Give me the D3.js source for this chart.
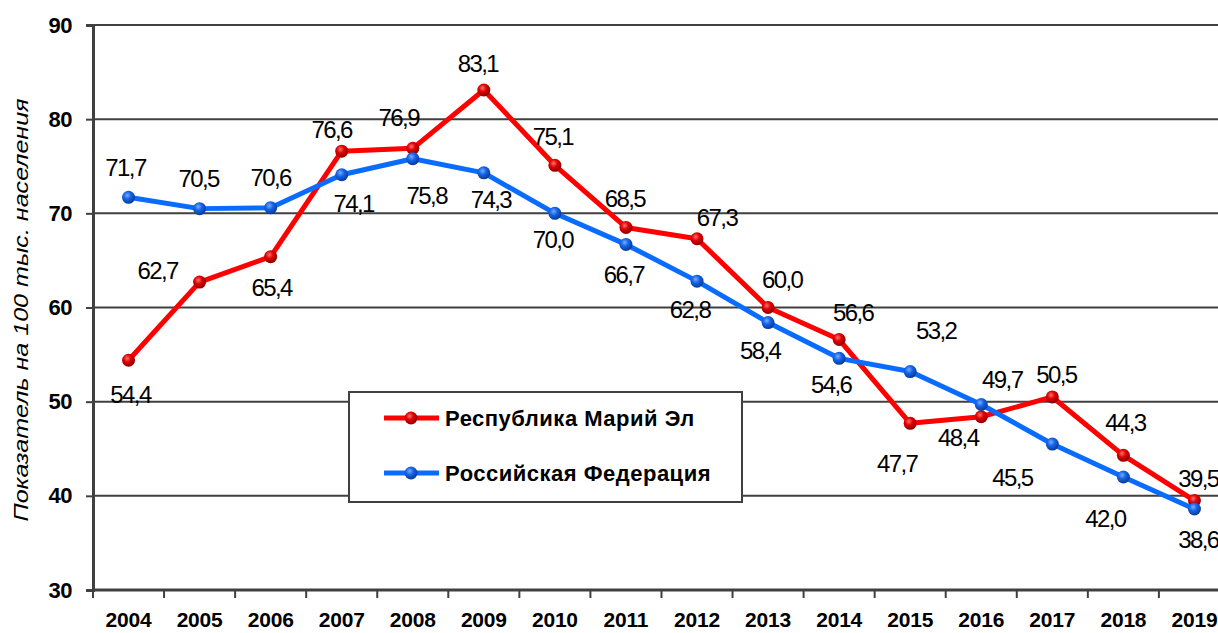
<!DOCTYPE html>
<html>
<head>
<meta charset="utf-8">
<script src="https://cdn.jsdelivr.net/npm/d3@7"></script>
<style>
  body { margin: 0; background: #fff; }
  svg { display: block; font-family: "Liberation Sans", Arial, sans-serif; }
</style>
</head>
<body>
<div id="chart"></div>
<script>
const years = ["2004","2005","2006","2007","2008","2009","2010","2011","2012","2013","2014","2015","2016","2017","2018","2019"];
const mariEl = [54.4, 62.7, 65.4, 76.6, 76.9, 83.1, 75.1, 68.5, 67.3, 60.0, 56.6, 47.7, 48.4, 50.5, 44.3, 39.5];
const russia = [71.7, 70.5, 70.6, 74.1, 75.8, 74.3, 70.0, 66.7, 62.8, 58.4, 54.6, 53.2, 49.7, 45.5, 42.0, 38.6];
const yTicks = [30, 40, 50, 60, 70, 80, 90];
const seriesNames = ["Республика Марий Эл", "Российская Федерация"];

// where each value label sits relative to its point (layout, not data)
const mariElLabelPos = [[2,34],[-42,-12],[1,31],[-10,-22],[-14,-31],[-6,-27],[-2,-29],[-1,-29],[20,-21],[14,-28],[14,-27],[-13,40],[-23,21],[4,-23],[2,-33],[4,-22]];
const russiaLabelPos = [[-3,-30],[-1,-30],[0,-30],[12,29],[14,37],[7,27],[-2,26],[-2,30],[-7,28],[-8,28],[-8,26],[26,-41],[21,-25],[-40,33],[-18,41],[4,30]];

const width = 1218, height = 633;
const left = 93, bandW = 71.06;

const svg = d3.select("#chart").append("svg")
    .attr("width", width)
    .attr("height", height);

const defs = svg.append("defs");
function ballGradient(id, light, mid, dark) {
    const g = defs.append("radialGradient").attr("id", id)
        .attr("cx", "40%").attr("cy", "35%").attr("r", "65%");
    g.append("stop").attr("offset", "0%").attr("stop-color", light);
    g.append("stop").attr("offset", "45%").attr("stop-color", mid);
    g.append("stop").attr("offset", "100%").attr("stop-color", dark);
}
ballGradient("ballRed", "#ff7070", "#e00000", "#8a0000");
ballGradient("ballBlue", "#78aaff", "#1464e6", "#0a3a96");

const x = d3.scaleBand()
    .domain(years)
    .range([left, left + bandW * years.length]);

const y = d3.scaleLinear()
    .domain([30, 90])
    .range([590, 25]);

// grid
svg.append("g")
    .selectAll("line")
    .data(yTicks)
    .join("line")
    .attr("x1", left)
    .attr("x2", width)
    .attr("y1", d => y(d))
    .attr("y2", d => y(d))
    .attr("stroke", "#404040")
    .attr("stroke-width", 2);

// y axis
const yAxis = svg.append("g")
    .attr("transform", `translate(${left},0)`)
    .call(d3.axisLeft(y).tickValues(yTicks).tickSize(7).tickPadding(14).tickFormat(d3.format("d")));
yAxis.select(".domain").attr("stroke", "#404040").attr("stroke-width", 3);
yAxis.selectAll(".tick line").attr("stroke", "#404040").attr("stroke-width", 2);
yAxis.selectAll(".tick text")
    .attr("font-size", 22)
    .attr("font-weight", "bold")
    .attr("font-family", "Liberation Sans, Arial, sans-serif")
    .attr("fill", "#000")
    .attr("letter-spacing", "-0.5px");

// x axis
const xAxis = svg.append("g")
    .attr("transform", `translate(0,${y(30)})`)
    .call(d3.axisBottom(x).tickSize(0).tickPadding(22));
xAxis.select(".domain").remove();
xAxis.selectAll(".tick text")
    .attr("font-size", 21)
    .attr("font-weight", "bold")
    .attr("font-family", "Liberation Sans, Arial, sans-serif")
    .attr("fill", "#000")
    .attr("letter-spacing", "-0.2px");
svg.append("line")
    .attr("x1", left).attr("x2", width)
    .attr("y1", y(30)).attr("y2", y(30))
    .attr("stroke", "#404040").attr("stroke-width", 3);
svg.append("g")
    .selectAll("line")
    .data(years)
    .join("line")
    .attr("x1", d => x(d))
    .attr("x2", d => x(d))
    .attr("y1", y(30))
    .attr("y2", y(30) + 8)
    .attr("stroke", "#404040")
    .attr("stroke-width", 2);

// y title
svg.append("text")
    .attr("transform", `translate(28,${310}) rotate(-90)`)
    .attr("text-anchor", "middle")
    .attr("font-size", 20)
    .attr("font-style", "italic")
    .attr("textLength", 423)
    .attr("lengthAdjust", "spacingAndGlyphs")
    .text("Показатель на 100 тыс. населения");

const line = d3.line()
    .x((d, i) => x(years[i]) + x.bandwidth() / 2)
    .y(d => y(d));

const series = [
    {name: seriesNames[0], values: mariEl, color: "#ff0000", ball: "url(#ballRed)", labels: mariElLabelPos},
    {name: seriesNames[1], values: russia, color: "#0a6cff", ball: "url(#ballBlue)", labels: russiaLabelPos}
];

series.forEach(s => {
    const g = svg.append("g");
    g.append("path")
        .attr("d", line(s.values))
        .attr("fill", "none")
        .attr("stroke", s.color)
        .attr("stroke-width", 5)
        .attr("stroke-linejoin", "round");
    g.selectAll("circle")
        .data(s.values)
        .join("circle")
        .attr("cx", (d, i) => x(years[i]) + x.bandwidth() / 2)
        .attr("cy", d => y(d))
        .attr("r", 6.5)
        .attr("fill", s.ball);
});

series.forEach(s => {
    svg.append("g")
        .attr("text-anchor", "middle")
        .selectAll("text")
        .data(s.values)
        .join("text")
        .attr("x", (d, i) => x(years[i]) + x.bandwidth() / 2 + s.labels[i][0])
        .attr("y", (d, i) => y(d) + s.labels[i][1])
        .attr("dy", "0.36em")
        .attr("font-size", 24)
        .attr("letter-spacing", "-1.6px")
        .attr("fill", "#000")
        .text(d => d3.format(".1f")(d).replace(".", ","));
});

// legend
const legend = svg.append("g");
legend.append("rect")
    .attr("x", 349).attr("y", 392)
    .attr("width", 393).attr("height", 110)
    .attr("fill", "#fff")
    .attr("stroke", "#404040")
    .attr("stroke-width", 2);
series.forEach((s, i) => {
    const ly = 418 + i * 55;
    legend.append("line")
        .attr("x1", 384).attr("x2", 439)
        .attr("y1", ly).attr("y2", ly)
        .attr("stroke", s.color).attr("stroke-width", 5);
    legend.append("circle")
        .attr("cx", 411).attr("cy", ly).attr("r", 6.5)
        .attr("fill", s.ball);
    legend.append("text")
        .attr("x", 445).attr("y", ly)
        .attr("dy", "0.36em")
        .attr("font-size", 22)
        .attr("font-weight", "bold")
        .attr("letter-spacing", "0.5px")
        .text(s.name);
});
</script>
</body>
</html>
